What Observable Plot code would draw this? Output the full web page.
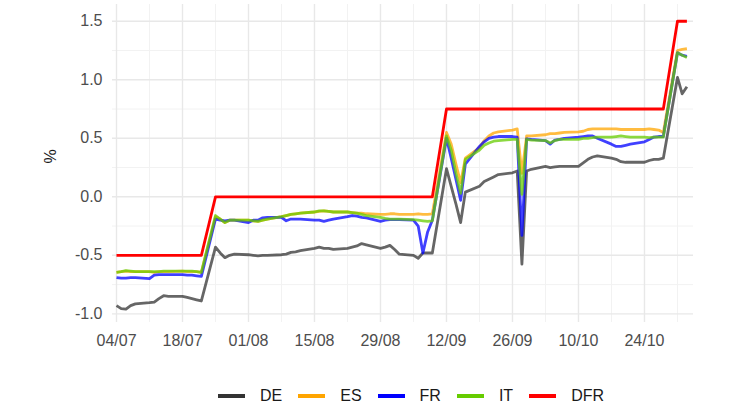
<!DOCTYPE html>
<html>
<head>
<meta charset="utf-8">
<script src="https://cdn.jsdelivr.net/npm/d3@7"></script>
<script src="https://cdn.jsdelivr.net/npm/@observablehq/plot@0.6"></script>
<style>
  html, body { margin: 0; padding: 0; background: #fff; }
  #wrap { position: relative; width: 730px; height: 410px; font-family: "Liberation Sans", Arial, sans-serif; }
  #legend { position: absolute; left: 218px; top: 384px; display: flex; align-items: center; font-size: 16px; color: #1a1a1a; }
  .sw { width: 27px; height: 4px; margin-right: 15px; }
  .lab { margin-right: 16px; line-height: 24px; }
</style>
</head>
<body>
<div id="wrap"><div id="chart"></div><div id="legend"></div></div>
<script>
const dates = [
  "2022-07-04","2022-07-05","2022-07-06","2022-07-07","2022-07-08",
  "2022-07-11","2022-07-12","2022-07-13","2022-07-14","2022-07-15",
  "2022-07-18","2022-07-19","2022-07-20","2022-07-21","2022-07-22",
  "2022-07-25","2022-07-26","2022-07-27","2022-07-28","2022-07-29",
  "2022-08-01","2022-08-02","2022-08-03","2022-08-04","2022-08-05",
  "2022-08-08","2022-08-09","2022-08-10","2022-08-11","2022-08-12",
  "2022-08-15","2022-08-16","2022-08-17","2022-08-18","2022-08-19",
  "2022-08-22","2022-08-23","2022-08-24","2022-08-25","2022-08-26",
  "2022-08-29","2022-08-30","2022-08-31","2022-09-01","2022-09-02",
  "2022-09-05","2022-09-06","2022-09-07","2022-09-08","2022-09-09",
  "2022-09-12","2022-09-13","2022-09-14","2022-09-15","2022-09-16",
  "2022-09-19","2022-09-20","2022-09-21","2022-09-22","2022-09-23",
  "2022-09-26","2022-09-27","2022-09-28","2022-09-29","2022-09-30",
  "2022-10-03","2022-10-04","2022-10-05","2022-10-06","2022-10-07",
  "2022-10-10","2022-10-11","2022-10-12","2022-10-13","2022-10-14",
  "2022-10-17","2022-10-18","2022-10-19","2022-10-20","2022-10-21",
  "2022-10-24","2022-10-25","2022-10-26","2022-10-27","2022-10-28",
  "2022-10-31","2022-11-01","2022-11-02"
];

const DE = [
  -0.93,-0.955,-0.96,-0.93,-0.915,
  -0.905,-0.90,-0.87,-0.845,-0.85,
  -0.85,-0.86,-0.87,-0.88,-0.89,
  -0.43,-0.48,-0.52,-0.50,-0.49,
  -0.495,-0.50,-0.505,-0.50,-0.50,
  -0.495,-0.49,-0.475,-0.47,-0.46,
  -0.44,-0.43,-0.44,-0.44,-0.45,
  -0.44,-0.43,-0.42,-0.40,-0.41,
  -0.44,-0.43,-0.415,-0.45,-0.49,
  -0.50,-0.525,-0.48,-0.48,-0.48,
  0.24,0.09,-0.06,-0.22,0.04,
  0.09,0.13,0.15,0.17,0.19,
  0.205,0.22,-0.575,0.22,0.235,
  0.26,0.25,0.255,0.26,0.26,
  0.26,0.29,0.32,0.34,0.35,
  0.33,0.32,0.30,0.295,0.295,
  0.295,0.31,0.32,0.32,0.33,
  1.02,0.88,0.94
];
const ES = [
  -0.645,-0.64,-0.635,-0.64,-0.64,
  -0.64,-0.645,-0.64,-0.64,-0.64,
  -0.635,-0.64,-0.64,-0.64,-0.645,
  -0.17,-0.19,-0.22,-0.20,-0.20,
  -0.20,-0.205,-0.21,-0.20,-0.19,
  -0.17,-0.16,-0.15,-0.145,-0.14,
  -0.13,-0.125,-0.12,-0.125,-0.13,
  -0.13,-0.135,-0.14,-0.14,-0.145,
  -0.15,-0.15,-0.145,-0.145,-0.15,
  -0.15,-0.145,-0.15,-0.15,-0.145,
  0.55,0.45,0.28,0.12,0.33,
  0.42,0.48,0.52,0.545,0.555,
  0.57,0.58,0.20,0.52,0.52,
  0.53,0.54,0.54,0.545,0.55,
  0.555,0.56,0.575,0.58,0.58,
  0.58,0.58,0.575,0.575,0.575,
  0.575,0.58,0.575,0.57,0.55,
  1.25,1.26,1.265
];
const FR = [
  -0.69,-0.695,-0.695,-0.69,-0.69,
  -0.70,-0.67,-0.665,-0.665,-0.665,
  -0.665,-0.67,-0.67,-0.675,-0.68,
  -0.19,-0.20,-0.205,-0.20,-0.20,
  -0.22,-0.20,-0.20,-0.18,-0.175,
  -0.175,-0.205,-0.19,-0.19,-0.19,
  -0.20,-0.20,-0.21,-0.20,-0.19,
  -0.17,-0.16,-0.165,-0.175,-0.18,
  -0.21,-0.20,-0.195,-0.195,-0.195,
  -0.20,-0.25,-0.48,-0.30,-0.20,
  0.50,0.33,0.15,-0.03,0.28,
  0.43,0.47,0.50,0.51,0.515,
  0.515,0.51,-0.33,0.495,0.49,
  0.48,0.45,0.485,0.49,0.50,
  0.51,0.515,0.52,0.52,0.50,
  0.45,0.43,0.43,0.44,0.45,
  0.47,0.49,0.51,0.515,0.515,
  1.23,1.21,1.20
];
const IT = [
  -0.645,-0.64,-0.63,-0.635,-0.64,
  -0.64,-0.64,-0.64,-0.635,-0.635,
  -0.635,-0.635,-0.635,-0.64,-0.645,
  -0.16,-0.19,-0.22,-0.20,-0.20,
  -0.20,-0.205,-0.21,-0.20,-0.19,
  -0.17,-0.16,-0.15,-0.145,-0.14,
  -0.13,-0.12,-0.12,-0.125,-0.13,
  -0.13,-0.135,-0.14,-0.15,-0.16,
  -0.175,-0.185,-0.19,-0.19,-0.19,
  -0.195,-0.20,-0.205,-0.21,-0.205,
  0.52,0.40,0.20,0.03,0.32,
  0.40,0.44,0.46,0.475,0.48,
  0.49,0.49,0.02,0.49,0.485,
  0.48,0.46,0.48,0.49,0.49,
  0.49,0.50,0.50,0.505,0.51,
  0.51,0.515,0.52,0.515,0.51,
  0.51,0.505,0.51,0.51,0.51,
  1.23,1.21,1.19
];
const DFR = [
  -0.5,-0.5,-0.5,-0.5,-0.5,
  -0.5,-0.5,-0.5,-0.5,-0.5,
  -0.5,-0.5,-0.5,-0.5,-0.5,
  0,0,0,0,0,
  0,0,0,0,0,
  0,0,0,0,0,
  0,0,0,0,0,
  0,0,0,0,0,
  0,0,0,0,0,
  0,0,0,0,0,
  0.75,0.75,0.75,0.75,0.75,
  0.75,0.75,0.75,0.75,0.75,
  0.75,0.75,0.75,0.75,0.75,
  0.75,0.75,0.75,0.75,0.75,
  0.75,0.75,0.75,0.75,0.75,
  0.75,0.75,0.75,0.75,0.75,
  0.75,0.75,0.75,0.75,0.75,
  1.5,1.5,1.5
];

const seriesNames = ["DE", "ES", "FR", "IT", "DFR"];
const seriesValues = [DE, ES, FR, IT, DFR];
const seriesColors = ["#333333", "#FFA500", "#0000FF", "#66CC00", "#FF0000"];
const seriesOpacity = [0.75, 0.75, 0.75, 0.75, 1];

const xMajorTicks = ["2022-07-04","2022-07-18","2022-08-01","2022-08-15","2022-08-29","2022-09-12","2022-09-26","2022-10-10","2022-10-24"];
const xMinorTicks = ["2022-07-11","2022-07-25","2022-08-08","2022-08-22","2022-09-05","2022-09-19","2022-10-03","2022-10-17","2022-10-31"];
const yMajorTicks = [-1, -0.5, 0, 0.5, 1, 1.5];
const yMinorTicks = [-0.75, -0.25, 0.25, 0.75, 1.25];

const parse = d3.utcParse("%Y-%m-%d");
const start = parse("2022-07-04");
const day = 864e5;
const xDomain = [new Date(+start - 0.85 * day), new Date(+start + 122.4 * day)];

const lineMarks = seriesNames.map((name, i) =>
  Plot.lineY(dates.map((d, j) => ({date: parse(d), value: seriesValues[i][j], series: name})), {
    x: "date", y: "value", stroke: seriesColors[i], strokeOpacity: seriesOpacity[i],
    strokeWidth: 2.8, strokeLinejoin: "round", strokeLinecap: "butt"
  })
);

const chart = Plot.plot({
  width: 730, height: 360,
  marginLeft: 112, marginRight: 37, marginTop: 4, marginBottom: 38,
  style: {fontFamily: "'Liberation Sans', Arial, sans-serif", fontSize: "16px", color: "#4d4d4d", background: "#fff"},
  x: {type: "utc", domain: xDomain},
  y: {domain: [-1.074, 1.643]},
  marks: [
    Plot.gridX(xMinorTicks.map(parse), {stroke: "#f2f2f2", strokeOpacity: 1, strokeWidth: 1}),
    Plot.gridY(yMinorTicks, {stroke: "#f2f2f2", strokeOpacity: 1, strokeWidth: 1}),
    Plot.gridX(xMajorTicks.map(parse), {stroke: "#e8e8e8", strokeOpacity: 1, strokeWidth: 1.4}),
    Plot.gridY(yMajorTicks, {stroke: "#e8e8e8", strokeOpacity: 1, strokeWidth: 1.4}),
    Plot.axisX(xMajorTicks.map(parse), {tickSize: 0, tickPadding: 12, tickFormat: d3.utcFormat("%d/%m"), label: null, fill: "#4d4d4d"}),
    Plot.axisY(yMajorTicks, {tickSize: 0, tickPadding: 10, tickFormat: d => d.toFixed(1), label: null, fill: "#4d4d4d"}),
    Plot.text(["%"], {frameAnchor: "left", dx: -62, rotate: -90, fill: "#1a1a1a", fontSize: 16}),
    ...lineMarks
  ]
});
document.getElementById("chart").appendChild(chart);

const legend = document.getElementById("legend");
seriesNames.forEach((name, i) => {
  const sw = document.createElement("div");
  sw.className = "sw";
  sw.style.background = seriesColors[i];
  const lab = document.createElement("div");
  lab.className = "lab";
  lab.textContent = name;
  legend.appendChild(sw);
  legend.appendChild(lab);
});
</script>
</body>
</html>
